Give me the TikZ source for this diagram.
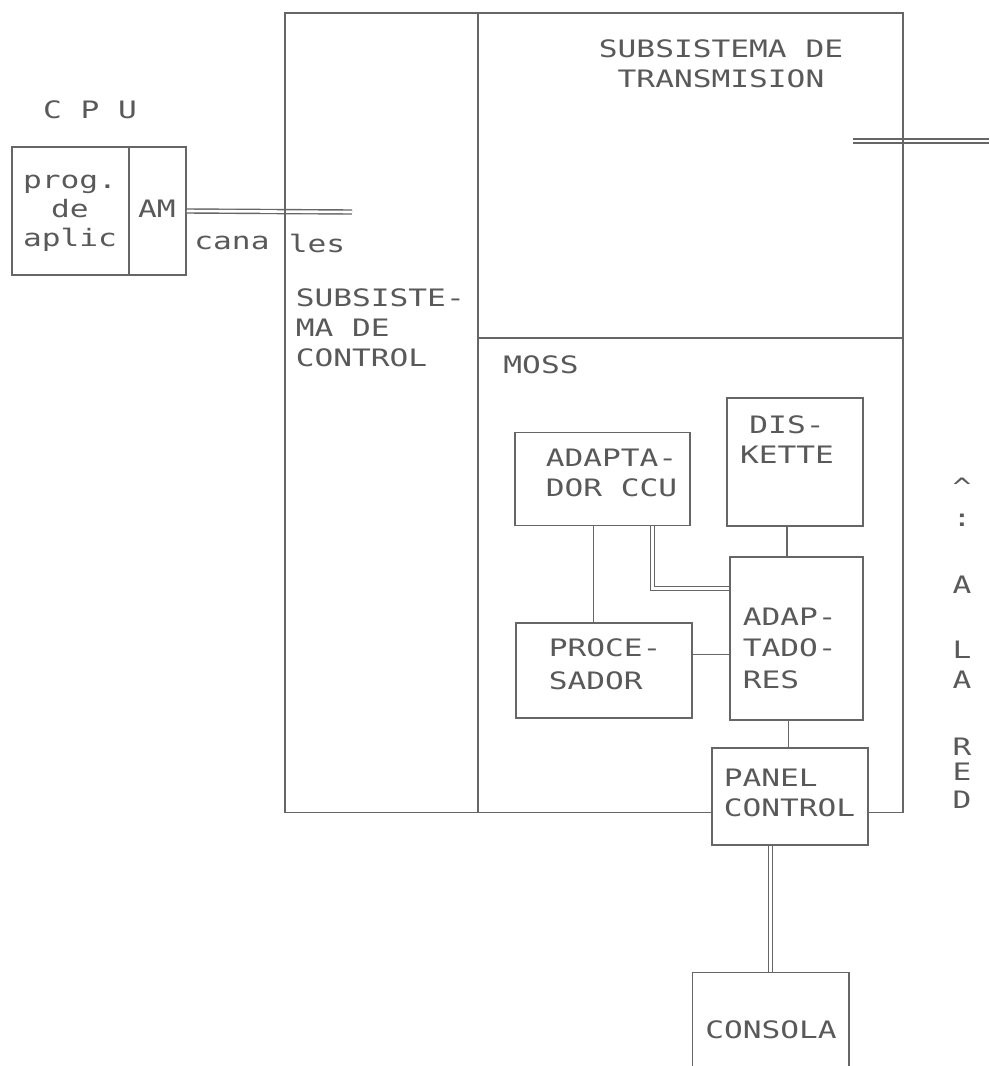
\documentclass[tikz,border=0pt]{standalone}
\usepackage{fontspec}
\newfontfamily\plotter[FakeStretch=1.3]{DejaVu Sans Mono}
\usepackage{tikz}

\begin{document}
\begin{tikzpicture}[x=1pt, y=-1pt, line width=1.5pt, color=black!60,
    txt/.style={text=black!65, font=\plotter\fontsize{24}{30}\selectfont, inner sep=0pt, align=left},
    blk/.style={draw, inner sep=0pt},
    dbl/.style={double=white, double distance=2.6pt, line width=1.4pt}]
    \useasboundingbox (0,0) rectangle (989,1066);

    % CPU side
    \node[blk, minimum width=117pt, minimum height=128pt] (progbox) at (70.5,211) {};
    \node[blk, minimum width=57pt, minimum height=128pt] (ambox) at (157.5,211) {};
    \node[txt] (cpu) at (90,110) {C P U};
    \node[txt, align=center, font=\plotter\fontsize{24}{29}\selectfont] (prog) at (70,213) {prog.\\de\\aplic};
    \node[txt] (am) at (157,209) {AM};
    \node[txt] (cana) at (232,243) {cana};
    \node[txt] (les) at (317,243) {les};

    % MOSS boxes
    \node[blk, minimum width=175pt, minimum height=93pt] (ccu) at (602.5,479) {};
    \node[blk, minimum width=136pt, minimum height=128pt] (disk) at (795,462) {};
    \node[blk, minimum width=133pt, minimum height=163pt] (adap) at (796.5,638.5) {};
    \node[blk, minimum width=176pt, minimum height=95pt] (proc) at (604,670.5) {};
    \node[blk, minimum width=156pt, minimum height=97pt] (panel) at (790,796.5) {};
    \node[inner sep=0pt, minimum width=155pt, minimum height=93pt] (consola) at (770.5,1019.5) {};
    \draw (consola.south west) -- (consola.north west) -- (consola.north east) -- (consola.south east);

    % links
    \coordinate (canend) at (352,212);
    \coordinate (netin) at (853,141);
    \coordinate (netout) at (989,141);
    \draw[dbl] (ambox.east) -- (canend);
    \draw[dbl] (netin) -- (netout);
    \draw[dbl] ([xshift=50pt]ccu.south) |- ([yshift=50pt]adap.west);
    \draw ([xshift=-9pt]ccu.south) -- ([xshift=-9pt]ccu.south |- proc.north);
    \draw ([yshift=16pt]proc.east) -- ([yshift=16pt]proc.east -| adap.west);
    \draw ([xshift=-8pt]disk.south) -- ([xshift=-8pt]disk.south |- adap.north);
    \draw ([xshift=-8pt]adap.south) -- ([xshift=-8pt]adap.south |- panel.north);
    \draw[dbl] (consola.north |- panel.south) -- (consola.north);

    % subsystems frame
    \draw ([yshift=-16pt]panel.west) -- (285,812.5) -- (285,13) -- (903,13) -- (903,812.5) -- ([yshift=-16pt]panel.east);
    \draw (478,13) -- (478,812.5);
    \draw (478,338) -- (903,338);

    % texts
    \node[txt, align=center] (trans) at (721,64) {SUBSISTEMA DE\\TRANSMISION};
    \node[txt, anchor=west] (ctrl) at (295,328) {SUBSISTE-\\MA DE\\CONTROL};
    \node[txt] (moss) at (541,365) {MOSS};
    \node[txt, anchor=west] (ccutxt) at (545,473) {ADAPTA-\\DOR CCU};
    \node[txt, align=center] (disktxt) at (787,440) {DIS-\\KETTE};
    \node[txt, anchor=west, font=\plotter\fontsize{24}{31.5}\selectfont] (adaptxt) at (742,648) {ADAP-\\TADO-\\RES};
    \node[txt, anchor=west, font=\plotter\fontsize{24}{33}\selectfont] (proctxt) at (548,664) {PROCE-\\SADOR};
    \node[txt, anchor=west] (paneltxt) at (723,793) {PANEL\\CONTROL};
    \node[txt] (consolatxt) at (771,1030) {CONSOLA};

    % a la red
    \node[txt] (redup) at (962,487) {\textasciicircum};
    \node[txt] (redbar) at (962,520) {:};
    \foreach \ch/\yy [count=\i] in {A/585, L/650, A/680, R/747, E/772, D/800} {
        \node[txt] (red\i) at (962,\yy) {\ch};
    }
\end{tikzpicture}
\end{document}
